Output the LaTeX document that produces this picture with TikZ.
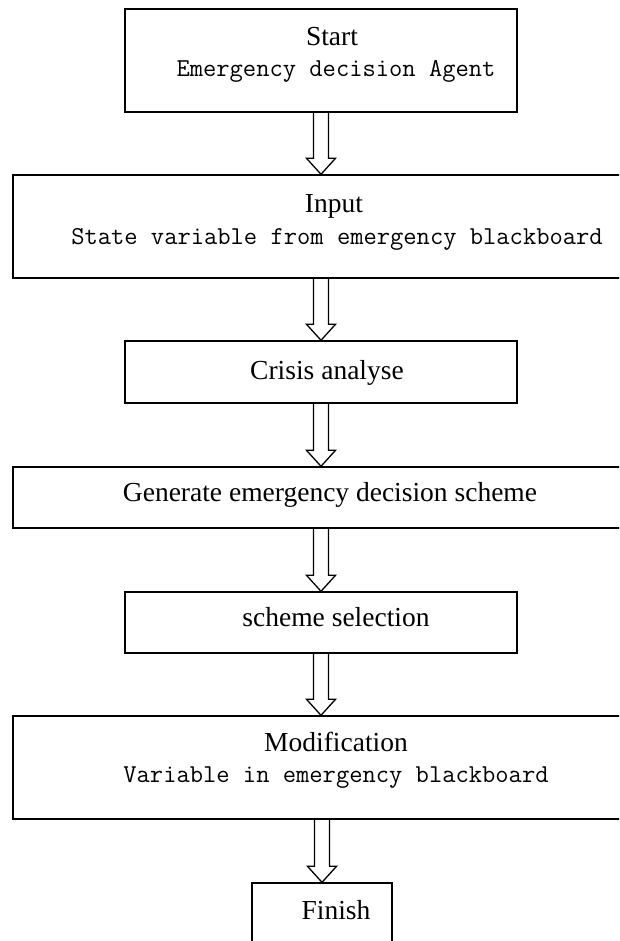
\documentclass[tikz,border=0pt]{standalone}
\usepackage{fontspec}
\setmainfont{Liberation Serif}
\usepackage{tikz}
\usetikzlibrary{positioning, calc}
\tikzset{
    stepbox/.style={draw, line width=1.4pt, inner sep=0pt},
    titletext/.style={anchor=base, font=\fontsize{27.5}{31}\selectfont},
    subtext/.style={anchor=base, font=\ttfamily\fontsize{25.8}{30}\selectfont},
    hollow/.style={line width=1.3pt, line join=miter}
}
\newcommand{\harrow}[2]{
    \draw[hollow] ($(#1)+(-7.5,0)$) -- ($(#2)+(-7.5,-16)$) -- ($(#2)+(-14.5,-16)$) -- (#2)
        -- ($(#2)+(14.5,-16)$) -- ($(#2)+(7.5,-16)$) -- ($(#1)+(7.5,0)$);
}

\begin{document}
\begin{tikzpicture}[x=1pt, y=-1pt]
    \useasboundingbox (0,0) rectangle (619,941);
    \clip (0,0) rectangle (619,941);
    % boxes
    \node[stepbox, minimum width=392pt, minimum height=103pt] (b1) at (321,60.5) {};
    \node[stepbox, minimum width=646pt, minimum height=103pt] (b2) at (336,226.5) {};
    \node[stepbox, minimum width=392pt, minimum height=62pt] (b3) at (321,372) {};
    \node[stepbox, minimum width=646pt, minimum height=61pt] (b4) at (336,497.5) {};
    \node[stepbox, minimum width=392pt, minimum height=61pt] (b5) at (321,622.5) {};
    \node[stepbox, minimum width=646pt, minimum height=103pt] (b6) at (336,767.5) {};
    \node[stepbox, minimum width=140pt, minimum height=77pt] (b7) at (322,921.5) {};
    % texts
    \node[titletext] (start) at (332,46) {Start};
    \node[subtext] (agent) at (336,77) {Emergency decision Agent};
    \node[titletext] (input) at (334,213) {Input};
    \node[subtext] (state) at (337,244) {State variable from emergency blackboard};
    \node[titletext] (crisis) at (327,379) {Crisis analyse};
    \node[titletext] (generate) at (330,501) {Generate emergency decision scheme};
    \node[titletext] (select) at (336,626) {scheme selection};
    \node[titletext] (modify) at (336,751) {Modification};
    \node[subtext] (variable) at (336,782) {Variable in emergency blackboard};
    \node[titletext] (finish) at (336,919) {Finish};
    % arrows
    \coordinate (e1) at (b1.south |- b2.north);
    \coordinate (s2) at (b3.north |- b2.south);
    \coordinate (e3) at (b3.south |- b4.north);
    \coordinate (s4) at (b5.north |- b4.south);
    \coordinate (e5) at (b5.south |- b6.north);
    \coordinate (s6) at (b7.north |- b6.south);
    \harrow{b1.south}{e1}
    \harrow{s2}{b3.north}
    \harrow{b3.south}{e3}
    \harrow{s4}{b5.north}
    \harrow{b5.south}{e5}
    \harrow{s6}{b7.north}
\end{tikzpicture}
\end{document}
